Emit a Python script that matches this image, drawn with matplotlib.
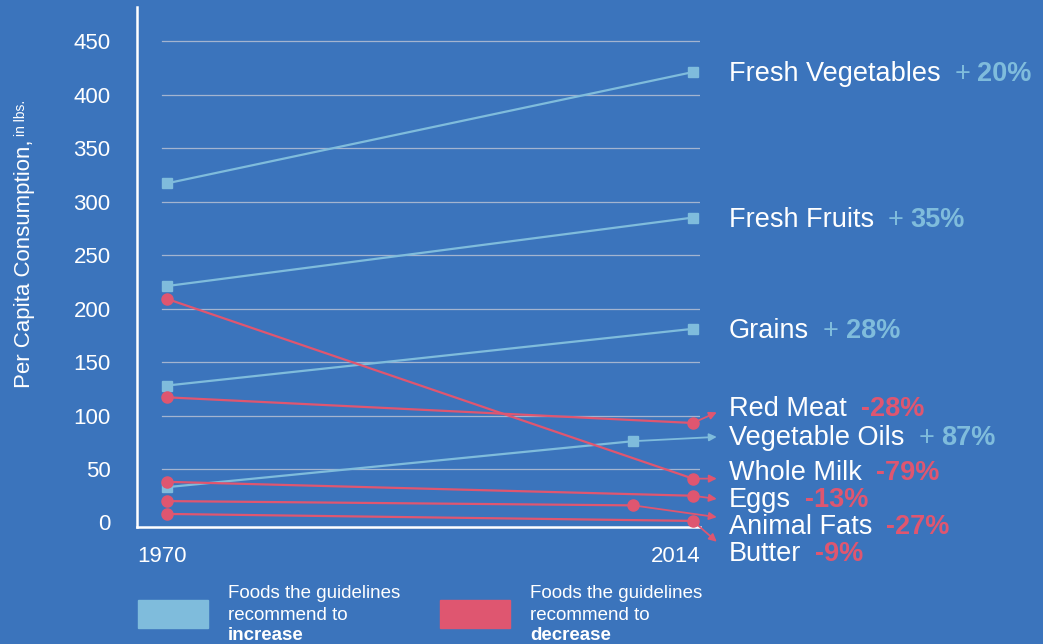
import matplotlib.pyplot as plt

plt.rcParams['font.family'] = ['Liberation Sans', 'DejaVu Sans']

BG = '#3b74bc'
BLUE = '#7fbcdc'
RED = '#df5670'
WHITE = '#ffffff'

# Datos (lbs per capita)
inc_names = ['Fresh Vegetables', 'Fresh Fruits', 'Grains', 'Vegetable Oils']
inc_years = [[1970, 2014], [1970, 2014], [1970, 2014], [1970, 2009]]
inc_values = [[317, 421], [221, 285], [128, 181], [33, 76]]
inc_pct = ['20%', '35%', '28%', '87%']

dec_names = ['Red Meat', 'Whole Milk', 'Eggs', 'Animal Fats', 'Butter']
dec_years = [[1970, 2014], [1970, 2014], [1970, 2014], [1970, 2009], [1970, 2014]]
dec_values = [[117, 93], [209, 41], [38, 25], [20, 16], [8, 1.5]]
dec_pct = ['-28%', '-79%', '-13%', '-27%', '-9%']

# label rows (data y) and arrow targets
label_y = {'Fresh Vegetables': 419, 'Fresh Fruits': 283, 'Grains': 179,
           'Red Meat': 106, 'Vegetable Oils': 79, 'Whole Milk': 46,
           'Eggs': 21, 'Animal Fats': -4, 'Butter': -29}
arrow_to = {'Red Meat': 103, 'Vegetable Oils': 80, 'Whole Milk': 41,
            'Eggs': 22, 'Animal Fats': 5, 'Butter': -18}

fig = plt.figure(figsize=(10.43, 6.44), dpi=100, facecolor=BG)
ax = fig.add_axes([0.1314, 0.1817, 0.5398, 0.8074])
ax.set_facecolor(BG)
ax.set_xlim(1967.5, 2014.6)
ax.set_ylim(-4.2, 481.8)

for v in range(50, 500, 50):
    ax.plot([1969.6, 2014.6], [v, v], color='#a3b4d0', lw=0.9, zorder=1)

for name, yrs, vals in zip(inc_names, inc_years, inc_values):
    ax.plot(yrs, vals, color=BLUE, lw=1.6, marker='s', ms=7, zorder=3)
for name, yrs, vals in zip(dec_names, dec_years, dec_values):
    ax.plot(yrs, vals, color=RED, lw=1.6, marker='o', ms=8, zorder=3)

def arrow(x0, y0, y1, color):
    ax.annotate('', xy=(2016.0, y1), xytext=(x0, y0), annotation_clip=False,
                arrowprops=dict(arrowstyle='-|>', color=color, lw=1.3,
                                mutation_scale=11, shrinkA=0, shrinkB=0))

arrow(inc_years[3][1], inc_values[3][1], arrow_to['Vegetable Oils'], BLUE)
for name, yrs, vals in zip(dec_names, dec_years, dec_values):
    arrow(yrs[1], vals[1], arrow_to[name], RED)

for s in ['top', 'right']:
    ax.spines[s].set_visible(False)
for s in ['left', 'bottom']:
    ax.spines[s].set_color(WHITE)
    ax.spines[s].set_linewidth(1.8)

ax.set_yticks(range(0, 500, 50))
ax.tick_params(axis='y', length=0, pad=19, labelsize=16, labelcolor=WHITE)
ax.set_xticks([])
ax.text(1967.5, -22, '1970', color=WHITE, fontsize=16, ha='left', va='top')
ax.text(2014.6, -22, '2014', color=WHITE, fontsize=16, ha='right', va='top')

fig.canvas.draw()
renderer = fig.canvas.get_renderer()
W, H = fig.bbox.width, fig.bbox.height

# y label: main part + small unit
yl = fig.text(0.013, 1 - 388 / 644, 'Per Capita Consumption,', rotation=90,
              color=WHITE, fontsize=16, ha='left', va='bottom')
bb = yl.get_window_extent(renderer)
fig.text(0.013, (bb.y1 + 4) / H, 'in lbs.', rotation=90,
         color=WHITE, fontsize=10, ha='left', va='bottom')

# right-side labels
pct_map = dict(zip(inc_names, inc_pct))
pct_map.update(zip(dec_names, dec_pct))
for name, yv in label_y.items():
    t = ax.text(2017.0, yv, name, color=WHITE, fontsize=19.5, va='center',
                ha='left', clip_on=False)
    bb = t.get_window_extent(renderer)
    yf = (bb.y0 + bb.y1) / 2 / H
    x_px = bb.x1 + 14
    if name in inc_names:
        plus = fig.text(x_px / W, yf, '+', color=BLUE, fontsize=19.5,
                        va='center', ha='left')
        x_px = plus.get_window_extent(renderer).x1 + 7
        fig.text(x_px / W, yf, pct_map[name], color=BLUE, fontsize=19.5,
                 va='center', ha='left', fontweight='bold')
    else:
        fig.text(x_px / W, yf, pct_map[name], color=RED, fontsize=19.5,
                 va='center', ha='left', fontweight='bold')

# legend
fig.patches.append(plt.Rectangle((138 / 1043, 1 - 628 / 644), 70 / 1043, 28 / 644,
                                 transform=fig.transFigure, color=BLUE))
fig.patches.append(plt.Rectangle((440 / 1043, 1 - 628 / 644), 70 / 1043, 28 / 644,
                                 transform=fig.transFigure, color=RED))
for x0, word in [(228, 'increase'), (530, 'decrease')]:
    fig.text(x0 / 1043, 1 - 594 / 644, 'Foods the guidelines', color=WHITE,
             fontsize=13.5, va='center', ha='left')
    fig.text(x0 / 1043, 1 - 615 / 644, 'recommend to', color=WHITE,
             fontsize=13.5, va='center', ha='left')
    fig.text(x0 / 1043, 1 - 636 / 644, word, color=WHITE, fontsize=13.5,
             va='center', ha='left', fontweight='bold')

fig.savefig('out.png', dpi=100, facecolor=BG)
